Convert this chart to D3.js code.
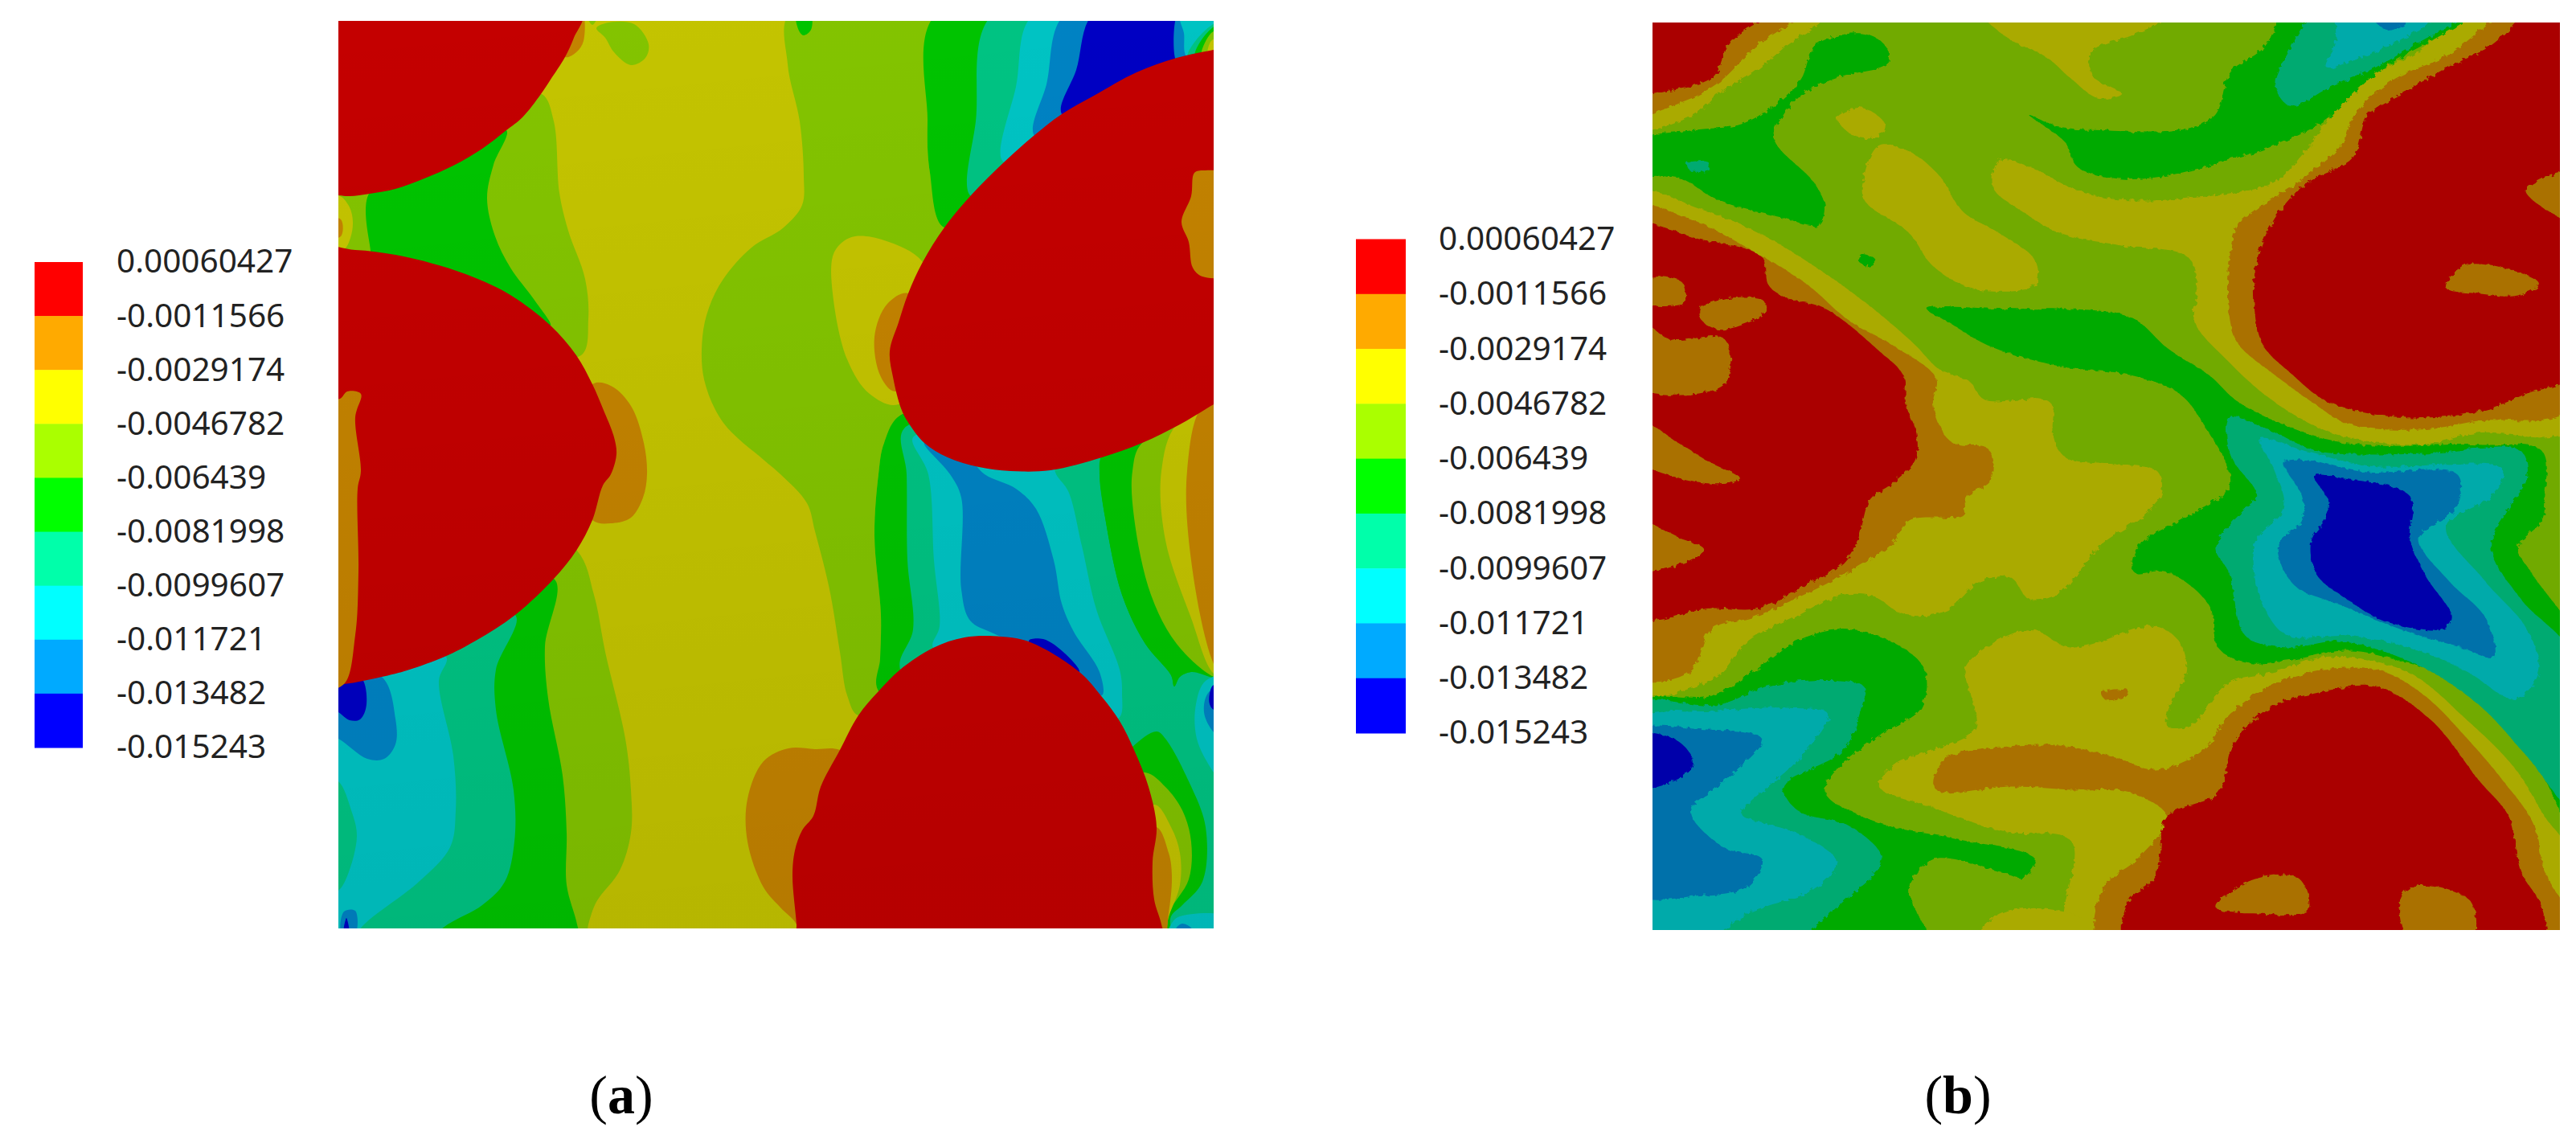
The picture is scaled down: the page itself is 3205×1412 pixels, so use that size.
<!DOCTYPE html>
<html>
<head>
<meta charset="utf-8">
<script src="https://cdn.jsdelivr.net/npm/d3@7"></script>
<style>
html, body { margin: 0; padding: 0; background: #fff; }
svg { display: block; }
.legend text { font-family: "Noto Sans", sans-serif; font-size: 40.5px; fill: #222; }
.caption { font-family: "Liberation Serif", serif; font-size: 68px; fill: #000; }
</style>
</head>
<body>
<svg id="fig" width="3205" height="1412"></svg>
<script>
/* legend, same for both plots */
var legendLabels = ["0.00060427", "-0.0011566", "-0.0029174", "-0.0046782", "-0.006439",
                    "-0.0081998", "-0.0099607", "-0.011721", "-0.013482", "-0.015243"];
var legendColors = ["#ff0000", "#ffaa00", "#ffff00", "#aaff00", "#00ff00",
                    "#00ffaa", "#00ffff", "#00aaff", "#0000ff"];
var RED = 0, ORANGE = 1, YELLOW = 2, LIME = 3, GREEN = 4, SPRING = 5, CYAN = 6, AZURE = 7, BLUE = 8;

/* plot (a): contour outlines, plate units 1089 x 1129 */
var aLimeTopLeft = [[253,91],[268,125],[275,214],[286,261],[307,321],[311,371],[302,416],[200,400],[-20,290],[-20,214],[200,100]];
var aYellowStrip = [[-20,218],[2,218],[14,232],[18,250],[15,270],[7,284],[-20,284]];
var aOrangeStrip = [[-20,247],[3,247],[3,268],[-20,268]];
var aGreenTopLeft = [[209,136],[193,179],[185,221],[195,268],[214,307],[243,346],[264,379],[200,345],[40,290],[40,286],[38,215],[100,180]];
var aLimeTopBlob = [[321,9],[336,2],[368,4],[386,29],[382,46],[364,55],[343,39],[332,21]];
var aLimeTopTick = [[310,-5],[322,-5],[316,5]];
var aOrangeTopBlob = [[303,-10],[305,25],[296,39],[282,45],[270,20]];
var aLimeCentre = [[562,-10],[559,54],[574,125],[579,193],[577,229],[554,257],[514,282],[479,321],[461,357],[453,393],[455,446],[479,500],[529,546],[550,564],[583,600],[593,635],[611,707],[624,785],[633,839],[647,864],[700,830],[672,834],[674,793],[675,739],[667,641],[672,564],[679,525],[702,489],[720,400],[754,257],[736,189],[733,125],[745,-10]];
var aGreenTopDot = [[570,-5],[588,-5],[588,11],[579,18],[574,14]];
var aYellowBlob = [[615,293],[625,277],[643,268],[679,273],[727,300],[750,380],[697,477],[661,464],[633,421],[615,339]];
var aOrangeBlob = [[709,339],[683,352],[667,393],[675,443],[693,461],[740,400]];
var aGreenTopRight = [[745,-10],[733,125],[736,189],[754,257],[850,200],[1100,-10]];
var aSpringTopRight = [[816,-10],[793,125],[787,218],[850,200],[1100,-10]];
var aCyanTopRight = [[867,-10],[843,82],[827,175],[900,150],[1100,-10]];
var aAzureTopRight = [[906,-10],[881,79],[866,143],[920,150],[1100,-10]];
var aBlueTopRight = [[941,-10],[918,61],[900,116],[950,130],[1060,70],[1045,45],[1043,-10]];
var aAzureCorner = [[1043,-5],[1043,50],[1056,45],[1052,15],[1048,-5]];
var aCyanCorner = [[1048,-5],[1052,15],[1056,45],[1100,45],[1100,-5]];
var aSpringCorner = [[1057,45],[1075,15],[1100,0],[1100,45]];
var aGreenCorner = [[1066,45],[1075,22],[1095,5],[1100,45]];
var aLimeCorner = [[1074,45],[1086,15],[1100,10],[1100,45]];
var aYellowCorner = [[1082,45],[1086,25],[1100,20],[1100,45]];
var aOrangeInRight = [[1065,189],[1077,186],[1110,193],[1110,314],[1075,318],[1063,307],[1058,275],[1049,250],[1061,218]];
var aGreenLower = [[702,489],[679,525],[672,564],[667,641],[675,739],[674,793],[672,834],[800,900],[1100,1150],[1100,700],[900,500]];
var aSpringLower = [[704,507],[707,564],[708,671],[715,757],[699,807],[800,900],[950,1150],[1110,1150],[1110,816],[1061,810],[1047,816],[1040,828],[1036,814],[1004,775],[975,714],[954,618],[947,564],[947,540],[850,500]];
var aCyanLower = [[715,518],[734,564],[741,671],[748,753],[740,780],[830,800],[970,868],[975,835],[972,807],[943,732],[925,653],[908,585],[893,564],[885,540],[800,520]];
var aAzureLower = [[729,525],[761,564],[775,593],[775,707],[786,746],[815,762],[880,790],[950,839],[947,810],[915,760],[900,725],[890,671],[868,607],[843,582],[804,564],[780,540]];
var aBlueLower = [[859,771],[877,769],[904,787],[922,810],[900,810]];
var aGreenRight = [[950,540],[947,564],[954,618],[975,714],[1004,775],[1036,814],[1040,828],[1047,816],[1061,810],[1110,816],[1110,480],[1000,500]];
var aLimeRight = [[1000,525],[988,560],[990,618],[1011,714],[1043,775],[1089,816],[1110,820],[1110,480]];
var aYellowRight = [[1043,502],[1024,560],[1029,646],[1061,743],[1089,812],[1110,820],[1110,470]];
var aOrangeRight = [[1075,480],[1056,560],[1061,671],[1089,800],[1110,830],[1110,470]];
var aCyanEdge = [[1110,815],[1079,821],[1067,850],[1068,893],[1089,935],[1110,960]];
var aAzureEdge = [[1110,825],[1083,835],[1077,860],[1089,885],[1110,900]];
var aBlueEdge = [[1110,826],[1089,826],[1084,837],[1084,850],[1089,857],[1110,860]];
var aGreenBottom = [[988,903],[1018,884],[1029,893],[1058,946],[1079,1003],[1075,1071],[1050,1100],[1036,1114],[1033,1150],[950,1150],[950,950]];
var aLimeBottom = [[1004,935],[1029,953],[1050,982],[1061,1021],[1058,1068],[1033,1110],[1024,1150],[950,1100],[950,950]];
var aYellowBottom = [[1015,975],[1036,1003],[1047,1035],[1047,1075],[1033,1115],[1024,1150],[950,1100]];
var aOrangeBottom = [[1017,1003],[1033,1035],[1037,1064],[1033,1110],[1024,1150],[950,1100]];
var aCyanCornerB = [[1036,1124],[1047,1114],[1110,1116],[1110,1150],[1030,1150]];
var aAzureCornerB = [[1042,1130],[1050,1123],[1062,1130],[1050,1140]];
var aOrangeCentreB = [[624,907],[593,906],[560,905],[529,921],[509,968],[509,1021],[529,1078],[550,1103],[570,1124],[575,1150],[650,1100],[680,950]];
var aOrangeCrescent = [[316,452],[339,454],[364,479],[380,525],[384,564],[379,593],[364,618],[339,625],[316,621],[280,540]];
var aLimeLower = [[297,659],[318,714],[332,785],[357,893],[364,957],[364,1010],[350,1057],[321,1096],[311,1124],[305,1150],[-20,1150],[-20,800],[200,600]];
var aGreenLowerLeft = [[268,694],[257,778],[261,843],[279,939],[284,1010],[284,1075],[297,1124],[300,1150],[-20,1150],[-20,800]];
var aSpringLowerLeft = [[220,739],[196,807],[196,857],[218,957],[219,1021],[207,1071],[179,1100],[136,1124],[100,1150],[-20,1150],[-20,800]];
var aCyanLowerLeft = [[134,791],[125,821],[143,914],[146,982],[139,1028],[100,1071],[32,1124],[10,1150],[-20,1150],[-20,800]];
var aSpringBlobLeft = [[-20,940],[0,946],[16,982],[23,1014],[11,1064],[0,1082],[-20,1090]];
var aAzureLeft = [[-20,800],[54,816],[71,868],[71,900],[57,918],[36,918],[0,893],[-20,885]];
var aBlueLeft = [[-20,810],[27,815],[35,850],[27,869],[14,870],[0,860],[-20,850]];
var aAzureFoot = [[4,1135],[7,1108],[21,1107],[21,1135]];
var aBlueFoot = [[7,1135],[10,1116],[13,1135]];
var aRedTopLeft = [[303,-10],[293,21],[282,45],[264,73],[252,91],[229,120],[209,136],[179,159],[143,180],[107,196],[71,209],[39,215],[14,218],[0,217],[-30,214],[-30,-30]];
var aRedLeft = [[-30,286],[21,285],[71,291],[125,304],[171,320],[214,341],[264,379],[296,416],[316,452],[329,482],[343,518],[346,539],[339,564],[329,578],[316,621],[296,659],[268,694],[220,739],[171,771],[132,791],[82,809],[54,816],[7,825],[-30,825]];
var aRedRight = [[1110,32],[1089,36],[1043,46],[993,64],[940,93],[900,116],[865,143],[829,175],[788,216],[754,257],[727,300],[709,339],[697,375],[686,411],[690,443],[700,482],[708,498],[729,525],[758,543],[797,555],[836,560],[886,559],[950,543],[1000,525],[1047,502],[1089,477],[1110,465]];
var aRedBottom = [[571,1150],[570,1124],[565,1064],[568,1032],[577,1007],[591,989],[600,953],[624,907],[647,864],[672,834],[699,807],[740,780],[779,767],[825,766],[861,773],[922,810],[950,841],[972,871],[990,907],[1008,953],[1018,1003],[1013,1046],[1015,1093],[1024,1124],[1027,1150]];
var aOrangeInLeft = [[-20,470],[2,470],[11,461],[28,464],[21,493],[28,560],[24,582],[25,685],[21,764],[7,825],[-20,830]];

var panelALayers = [
	[LIME, aLimeTopLeft], [YELLOW, aYellowStrip], [ORANGE, aOrangeStrip], [GREEN, aGreenTopLeft],
	[LIME, aLimeTopBlob], [LIME, aLimeTopTick], [ORANGE, aOrangeTopBlob], [LIME, aLimeCentre], [GREEN, aGreenTopDot],
	[YELLOW, aYellowBlob], [ORANGE, aOrangeBlob],
	[GREEN, aGreenTopRight], [SPRING, aSpringTopRight], [CYAN, aCyanTopRight], [AZURE, aAzureTopRight], [BLUE, aBlueTopRight],
	[AZURE, aAzureCorner], [CYAN, aCyanCorner], [SPRING, aSpringCorner], [GREEN, aGreenCorner], [LIME, aLimeCorner], [YELLOW, aYellowCorner],
	[GREEN, aGreenLower], [SPRING, aSpringLower], [CYAN, aCyanLower], [AZURE, aAzureLower], [BLUE, aBlueLower],
	[GREEN, aGreenRight], [LIME, aLimeRight], [YELLOW, aYellowRight], [ORANGE, aOrangeRight],
	[CYAN, aCyanEdge], [AZURE, aAzureEdge], [BLUE, aBlueEdge],
	[GREEN, aGreenBottom], [LIME, aLimeBottom], [YELLOW, aYellowBottom], [ORANGE, aOrangeBottom],
	[CYAN, aCyanCornerB], [AZURE, aAzureCornerB], [ORANGE, aOrangeCentreB], [ORANGE, aOrangeCrescent],
	[LIME, aLimeLower], [GREEN, aGreenLowerLeft], [SPRING, aSpringLowerLeft], [CYAN, aCyanLowerLeft],
	[SPRING, aSpringBlobLeft], [AZURE, aAzureLeft], [BLUE, aBlueLeft], [AZURE, aAzureFoot], [BLUE, aBlueFoot],
	[RED, aRedTopLeft], [RED, aRedLeft], [RED, aRedRight], [RED, aRedBottom],
	[ORANGE, aOrangeInLeft], [ORANGE, aOrangeInRight]
];

/* plot (b): measured field, same idea, lime is the background level */
var bYellowRight = [[1400,10],[1300,85],[1230,120],[1170,170],[1110,250],[1060,300],[980,320],[800,330],[720,310],[650,275],[600,265],[590,310],[640,350],[700,385],[800,405],[915,425],[930,480],[925,530],[985,600],[1040,650],[1100,690],[1170,720],[1300,735],[1400,715],[1560,705],[1560,10]];
var bOrangeRight = [[1460,10],[1350,90],[1260,130],[1195,185],[1170,240],[1100,300],[1000,370],[985,420],[985,530],[1000,570],[1060,620],[1130,670],[1180,700],[1300,710],[1400,695],[1560,670],[1560,10]];
var bRedRight = [[1495,10],[1420,75],[1340,115],[1280,150],[1215,190],[1190,260],[1115,300],[1060,360],[1030,430],[1025,500],[1040,570],[1090,620],[1140,660],[1200,680],[1290,690],[1400,680],[1480,650],[1560,615],[1560,10]];
var bOrangeIn1 = [[1345,475],[1375,438],[1430,440],[1500,468],[1465,488],[1400,485]];
var bOrangeIn2 = [[1478,315],[1560,285],[1560,365]];
var bGreenTop = [[650,190],[700,210],[770,215],[900,215],[960,190],[985,120],[1040,80],[1090,10],[1400,10],[1230,120],[1140,200],[1060,240],[980,265],[880,290],[800,295],[730,275],[710,235]];
var bSpringTop = [[1142,10],[1080,90],[1060,140],[1085,175],[1150,145],[1230,110],[1300,70],[1400,10]];
var bCyanTop = [[1170,10],[1160,75],[1145,110],[1190,100],[1270,65],[1350,10]];
var bAzureTop = [[1220,25],[1290,25],[1250,50]];
var bOrangeTopLeft = [[-10,185],[80,165],[140,130],[190,80],[280,10],[-10,10]];
var bYellowTopLeft = [[-10,210],[90,190],[130,155],[190,120],[240,80],[325,10],[-10,10]];
var bRedTopLeft = [[-10,150],[70,145],[125,125],[150,70],[230,10],[-10,10]];
var bGreenTopLeft = [[300,70],[370,55],[410,75],[415,105],[340,125],[280,150],[240,190],[225,230],[290,300],[310,340],[300,372],[240,360],[130,330],[70,295],[-10,285],[-10,235],[90,215],[170,205],[230,170],[270,130],[285,90]];
var bSpringDot = [[80,270],[115,268],[115,280],[85,282]];
var bYellowTop = [[565,10],[915,10],[830,55],[755,85],[755,125],[805,155],[765,162],[720,130],[680,95],[610,60]];
var bYellowDot = [[330,195],[370,178],[410,205],[400,225],[360,225]];
var bYellowTongue = [[400,240],[450,250],[500,290],[540,350],[600,385],[660,430],[660,470],[560,478],[490,440],[450,385],[375,330],[375,290]];
var bGreenDot = [[370,420],[395,430],[380,440],[365,430]];
var bYellowLeft = [[-10,320],[100,345],[200,385],[300,445],[390,510],[460,570],[500,610],[550,630],[575,660],[685,665],[690,720],[710,755],[865,780],[870,820],[830,860],[770,900],[700,980],[650,990],[620,955],[570,960],[510,1010],[440,1015],[390,985],[330,985],[260,1020],[180,1060],[125,1120],[-10,1138]];
var bOrangeLeft = [[-10,345],[80,360],[190,415],[280,470],[350,530],[430,575],[495,625],[490,670],[520,730],[582,742],[585,795],[545,820],[540,850],[450,860],[420,900],[350,945],[270,985],[190,1020],[120,1040],[85,1110],[-10,1115]];
var bRedLeft = [[-10,378],[100,395],[205,425],[215,470],[240,490],[310,510],[400,580],[440,620],[445,670],[462,715],[460,760],[420,800],[385,825],[365,890],[340,930],[280,965],[200,1005],[120,1005],[-10,1015]];
var bOrangeIn3 = [[-10,465],[70,465],[75,500],[-10,495]];
var bOrangeIn4 = [[105,505],[205,495],[210,515],[135,545],[105,530]];
var bOrangeIn5 = [[-10,520],[50,560],[142,560],[142,635],[-10,638]];
var bOrangeIn6 = [[-10,690],[70,735],[120,765],[168,790],[130,800],[-10,755]];
var bOrangeIn7 = [[-10,860],[70,890],[108,908],[60,935],[-10,940]];
var bGreenCentre = [[480,510],[600,510],[780,515],[830,530],[880,575],[950,620],[1000,665],[1110,715],[1200,735],[1400,735],[1505,745],[1510,820],[1505,860],[1465,905],[1490,950],[1560,1060],[1560,1380],[1500,1270],[1440,1200],[1370,1130],[1280,1095],[1180,1075],[1090,1090],[1010,1095],[965,1070],[950,1000],[880,945],[825,945],[835,900],[920,850],[985,800],[940,700],[900,650],[820,620],[700,605],[580,570],[520,535]];
var bSpringCentre = [[985,690],[1060,715],[1130,745],[1300,750],[1470,745],[1480,790],[1450,840],[1420,905],[1470,990],[1560,1090],[1560,1340],[1480,1250],[1400,1165],[1300,1100],[1170,1060],[1080,1070],[1010,1050],[985,950],[962,905],[1010,840],[1030,820],[985,750]];
var bCyanCentre = [[1035,725],[1110,745],[1220,770],[1440,775],[1420,820],[1345,870],[1410,960],[1480,1040],[1500,1110],[1460,1155],[1380,1110],[1300,1075],[1180,1050],[1080,1050],[1040,1000],[1025,900],[1075,840],[1060,780]];
var bAzureCentre = [[1075,765],[1110,760],[1210,780],[1365,785],[1360,840],[1300,890],[1350,960],[1410,1020],[1425,1085],[1370,1070],[1270,1040],[1170,1000],[1090,965],[1065,900],[1105,860],[1105,820]];
var bBlueCentre = [[1125,785],[1170,790],[1285,820],[1285,890],[1310,950],[1355,1020],[1340,1040],[1240,1025],[1180,990],[1130,950],[1120,895],[1145,855],[1150,830]];
var bYellowBottom = [[545,1100],[650,1040],[720,1070],[860,1035],[900,1060],[912,1105],[880,1180],[880,1200],[920,1200],[980,1130],[1060,1110],[1150,1085],[1280,1110],[1380,1190],[1460,1270],[1510,1350],[1560,1420],[1560,1565],[720,1565],[720,1390],[610,1375],[490,1335],[400,1300],[425,1265],[560,1205],[550,1140]];
var bYellowFoot = [[555,1565],[600,1510],[720,1510],[800,1565]];
var bOrangeBottom = [[490,1295],[510,1255],[600,1235],[700,1232],[790,1250],[860,1272],[940,1240],[985,1180],[1060,1130],[1150,1105],[1240,1110],[1310,1150],[1380,1220],[1440,1290],[1490,1360],[1510,1440],[1560,1530],[1560,1565],[770,1565],[775,1465],[830,1420],[880,1350],[820,1310],[720,1305],[620,1300],[500,1308]];
var bRedBottom = [[815,1565],[815,1490],[860,1450],[880,1350],[965,1310],[990,1230],[1050,1170],[1130,1145],[1230,1135],[1320,1190],[1400,1290],[1450,1350],[1470,1440],[1505,1500],[1505,1565]];
var bOrangeIn8 = [[962,1500],[1020,1455],[1100,1452],[1115,1505],[1040,1510]];
var bOrangeIn9 = [[1268,1490],[1290,1465],[1350,1470],[1390,1495],[1385,1565],[1290,1565]];
var bOrangeIn10 = [[770,1145],[815,1140],[810,1150],[780,1158]];
var bGreenLowerLeft = [[-10,1165],[120,1150],[190,1110],[260,1060],[340,1040],[420,1060],[475,1105],[470,1170],[400,1215],[330,1270],[310,1310],[400,1360],[520,1385],[660,1420],[640,1450],[600,1440],[490,1420],[450,1470],[480,1565],[-10,1565]];
var bSpringLowerLeft = [[-10,1170],[130,1165],[230,1130],[375,1135],[370,1170],[340,1240],[240,1300],[265,1340],[350,1365],[405,1420],[340,1490],[230,1565],[-10,1565]];
var bCyanLowerLeft = [[-10,1195],[130,1175],[250,1170],[315,1180],[270,1250],[180,1330],[170,1345],[270,1380],[330,1425],[290,1470],[180,1510],[100,1565],[-10,1565]];
var bAzureLowerLeft = [[-10,1212],[100,1205],[205,1222],[130,1300],[85,1340],[140,1400],[205,1420],[180,1465],[100,1480],[-10,1475]];
var bBlueLowerLeft = [[-10,1215],[65,1225],[90,1262],[60,1290],[-10,1300]];

var panelBLayers = [
	[YELLOW, bYellowRight], [ORANGE, bOrangeRight], [RED, bRedRight], [ORANGE, bOrangeIn1], [ORANGE, bOrangeIn2],
	[GREEN, bGreenTop], [SPRING, bSpringTop], [CYAN, bCyanTop], [AZURE, bAzureTop],
	[YELLOW, bYellowTopLeft], [ORANGE, bOrangeTopLeft], [RED, bRedTopLeft], [GREEN, bGreenTopLeft], [SPRING, bSpringDot],
	[YELLOW, bYellowTop], [YELLOW, bYellowDot], [YELLOW, bYellowTongue], [GREEN, bGreenDot],
	[YELLOW, bYellowLeft], [ORANGE, bOrangeLeft], [RED, bRedLeft],
	[ORANGE, bOrangeIn3], [ORANGE, bOrangeIn4], [ORANGE, bOrangeIn5], [ORANGE, bOrangeIn6], [ORANGE, bOrangeIn7],
	[GREEN, bGreenCentre], [SPRING, bSpringCentre], [CYAN, bCyanCentre], [AZURE, bAzureCentre], [BLUE, bBlueCentre],
	[YELLOW, bYellowBottom], [YELLOW, bYellowFoot], [ORANGE, bOrangeBottom], [RED, bRedBottom],
	[ORANGE, bOrangeIn8], [ORANGE, bOrangeIn9], [ORANGE, bOrangeIn10],
	[GREEN, bGreenLowerLeft], [SPRING, bSpringLowerLeft], [CYAN, bCyanLowerLeft], [AZURE, bAzureLowerLeft], [BLUE, bBlueLowerLeft]
];

var svg = d3.select("#fig");
var defs = svg.append("defs");

// plots are shaded: legend colours multiplied by a light factor
function shade(c, k) {
	var r = d3.rgb(c);
	return d3.rgb(r.r * k, r.g * k, r.b * k).formatHex();
}

function drawPanel(id, cfg) {
	var x = d3.scaleLinear().domain(cfg.xDomain).range(cfg.xRange);
	var y = d3.scaleLinear().domain(cfg.yDomain).range(cfg.yRange);
	var line = d3.line()
		.x(function(d) { return x(d[0]); })
		.y(function(d) { return y(d[1]); })
		.curve(d3.curveCatmullRomClosed.alpha(0.5));

	defs.append("clipPath").attr("id", "clip-" + id).append("rect")
		.attr("x", cfg.xRange[0]).attr("y", cfg.yRange[0])
		.attr("width", cfg.xRange[1] - cfg.xRange[0])
		.attr("height", cfg.yRange[1] - cfg.yRange[0]);

	var clip = svg.append("g").attr("clip-path", "url(#clip-" + id + ")");
	var g = clip.append("g");
	if (cfg.filter) g.attr("filter", cfg.filter);

	g.append("rect")
		.attr("x", cfg.xRange[0] - 30).attr("y", cfg.yRange[0] - 30)
		.attr("width", cfg.xRange[1] - cfg.xRange[0] + 60)
		.attr("height", cfg.yRange[1] - cfg.yRange[0] + 60)
		.attr("fill", shade(legendColors[cfg.base], cfg.light));

	g.selectAll("path").data(cfg.layers).enter().append("path")
		.attr("d", function(d) { return line(d[1]); })
		.attr("fill", function(d) { return shade(legendColors[d[0]], cfg.light); });

	if (cfg.fade) {
		var grad = defs.append("linearGradient").attr("id", "fade-" + id)
			.attr("x1", 0).attr("y1", 0).attr("x2", 0.1).attr("y2", 1);
		grad.append("stop").attr("offset", 0).attr("stop-color", "#000").attr("stop-opacity", 0);
		grad.append("stop").attr("offset", 1).attr("stop-color", "#000").attr("stop-opacity", cfg.fade);
		clip.append("rect")
			.attr("x", cfg.xRange[0]).attr("y", cfg.yRange[0])
			.attr("width", cfg.xRange[1] - cfg.xRange[0])
			.attr("height", cfg.yRange[1] - cfg.yRange[0])
			.attr("fill", "url(#fade-" + id + ")");
	}
}

function drawLegend(left, right, top, bottom, textX) {
	var yLabels = d3.scalePoint().domain(legendLabels).range([top, bottom]);
	var yBand = d3.scaleBand().domain(legendColors).range([top, bottom]);
	var g = svg.append("g").attr("class", "legend");
	g.selectAll("rect").data(legendColors).enter().append("rect")
		.attr("x", left).attr("width", right - left)
		.attr("y", function(d) { return yBand(d); })
		.attr("height", yBand.bandwidth() + 0.5)
		.attr("fill", function(d) { return d; });
	var axis = g.append("g")
		.attr("transform", "translate(" + textX + ",0)")
		.call(d3.axisRight(yLabels).tickSize(0).tickPadding(0));
	axis.select(".domain").remove();
	axis.attr("font-size", null).attr("font-family", null);
}

// rough pixel edge of the measured field in (b)
var rough = defs.append("filter").attr("id", "rough")
	.attr("x", "-5%").attr("y", "-5%").attr("width", "110%").attr("height", "110%");
rough.append("feTurbulence").attr("type", "fractalNoise").attr("baseFrequency", 0.16)
	.attr("numOctaves", 2).attr("seed", 4).attr("result", "n");
rough.append("feDisplacementMap").attr("in", "SourceGraphic").attr("in2", "n").attr("scale", 7);

drawPanel("a", {
	xDomain: [0, 1089], xRange: [421, 1510],
	yDomain: [0, 1129], yRange: [26, 1155],
	base: YELLOW, light: 0.77, fade: 0.07, layers: panelALayers
});
drawPanel("b", {
	xDomain: [22, 1535], xRange: [2056, 3185],
	yDomain: [37, 1537], yRange: [28, 1157],
	base: LIME, light: 0.667, filter: "url(#rough)", layers: panelBLayers
});

drawLegend(43, 103, 326, 930, 145);
drawLegend(1687, 1749, 297.5, 912, 1790);

/* captions */
[["a", 773], ["b", 2436]].forEach(function(c) {
	var t = svg.append("text").attr("class", "caption")
		.attr("x", c[1]).attr("y", 1385).attr("text-anchor", "middle");
	t.append("tspan").text("(");
	t.append("tspan").attr("font-weight", "bold").text(c[0]);
	t.append("tspan").text(")");
});
</script>
</body>
</html>
